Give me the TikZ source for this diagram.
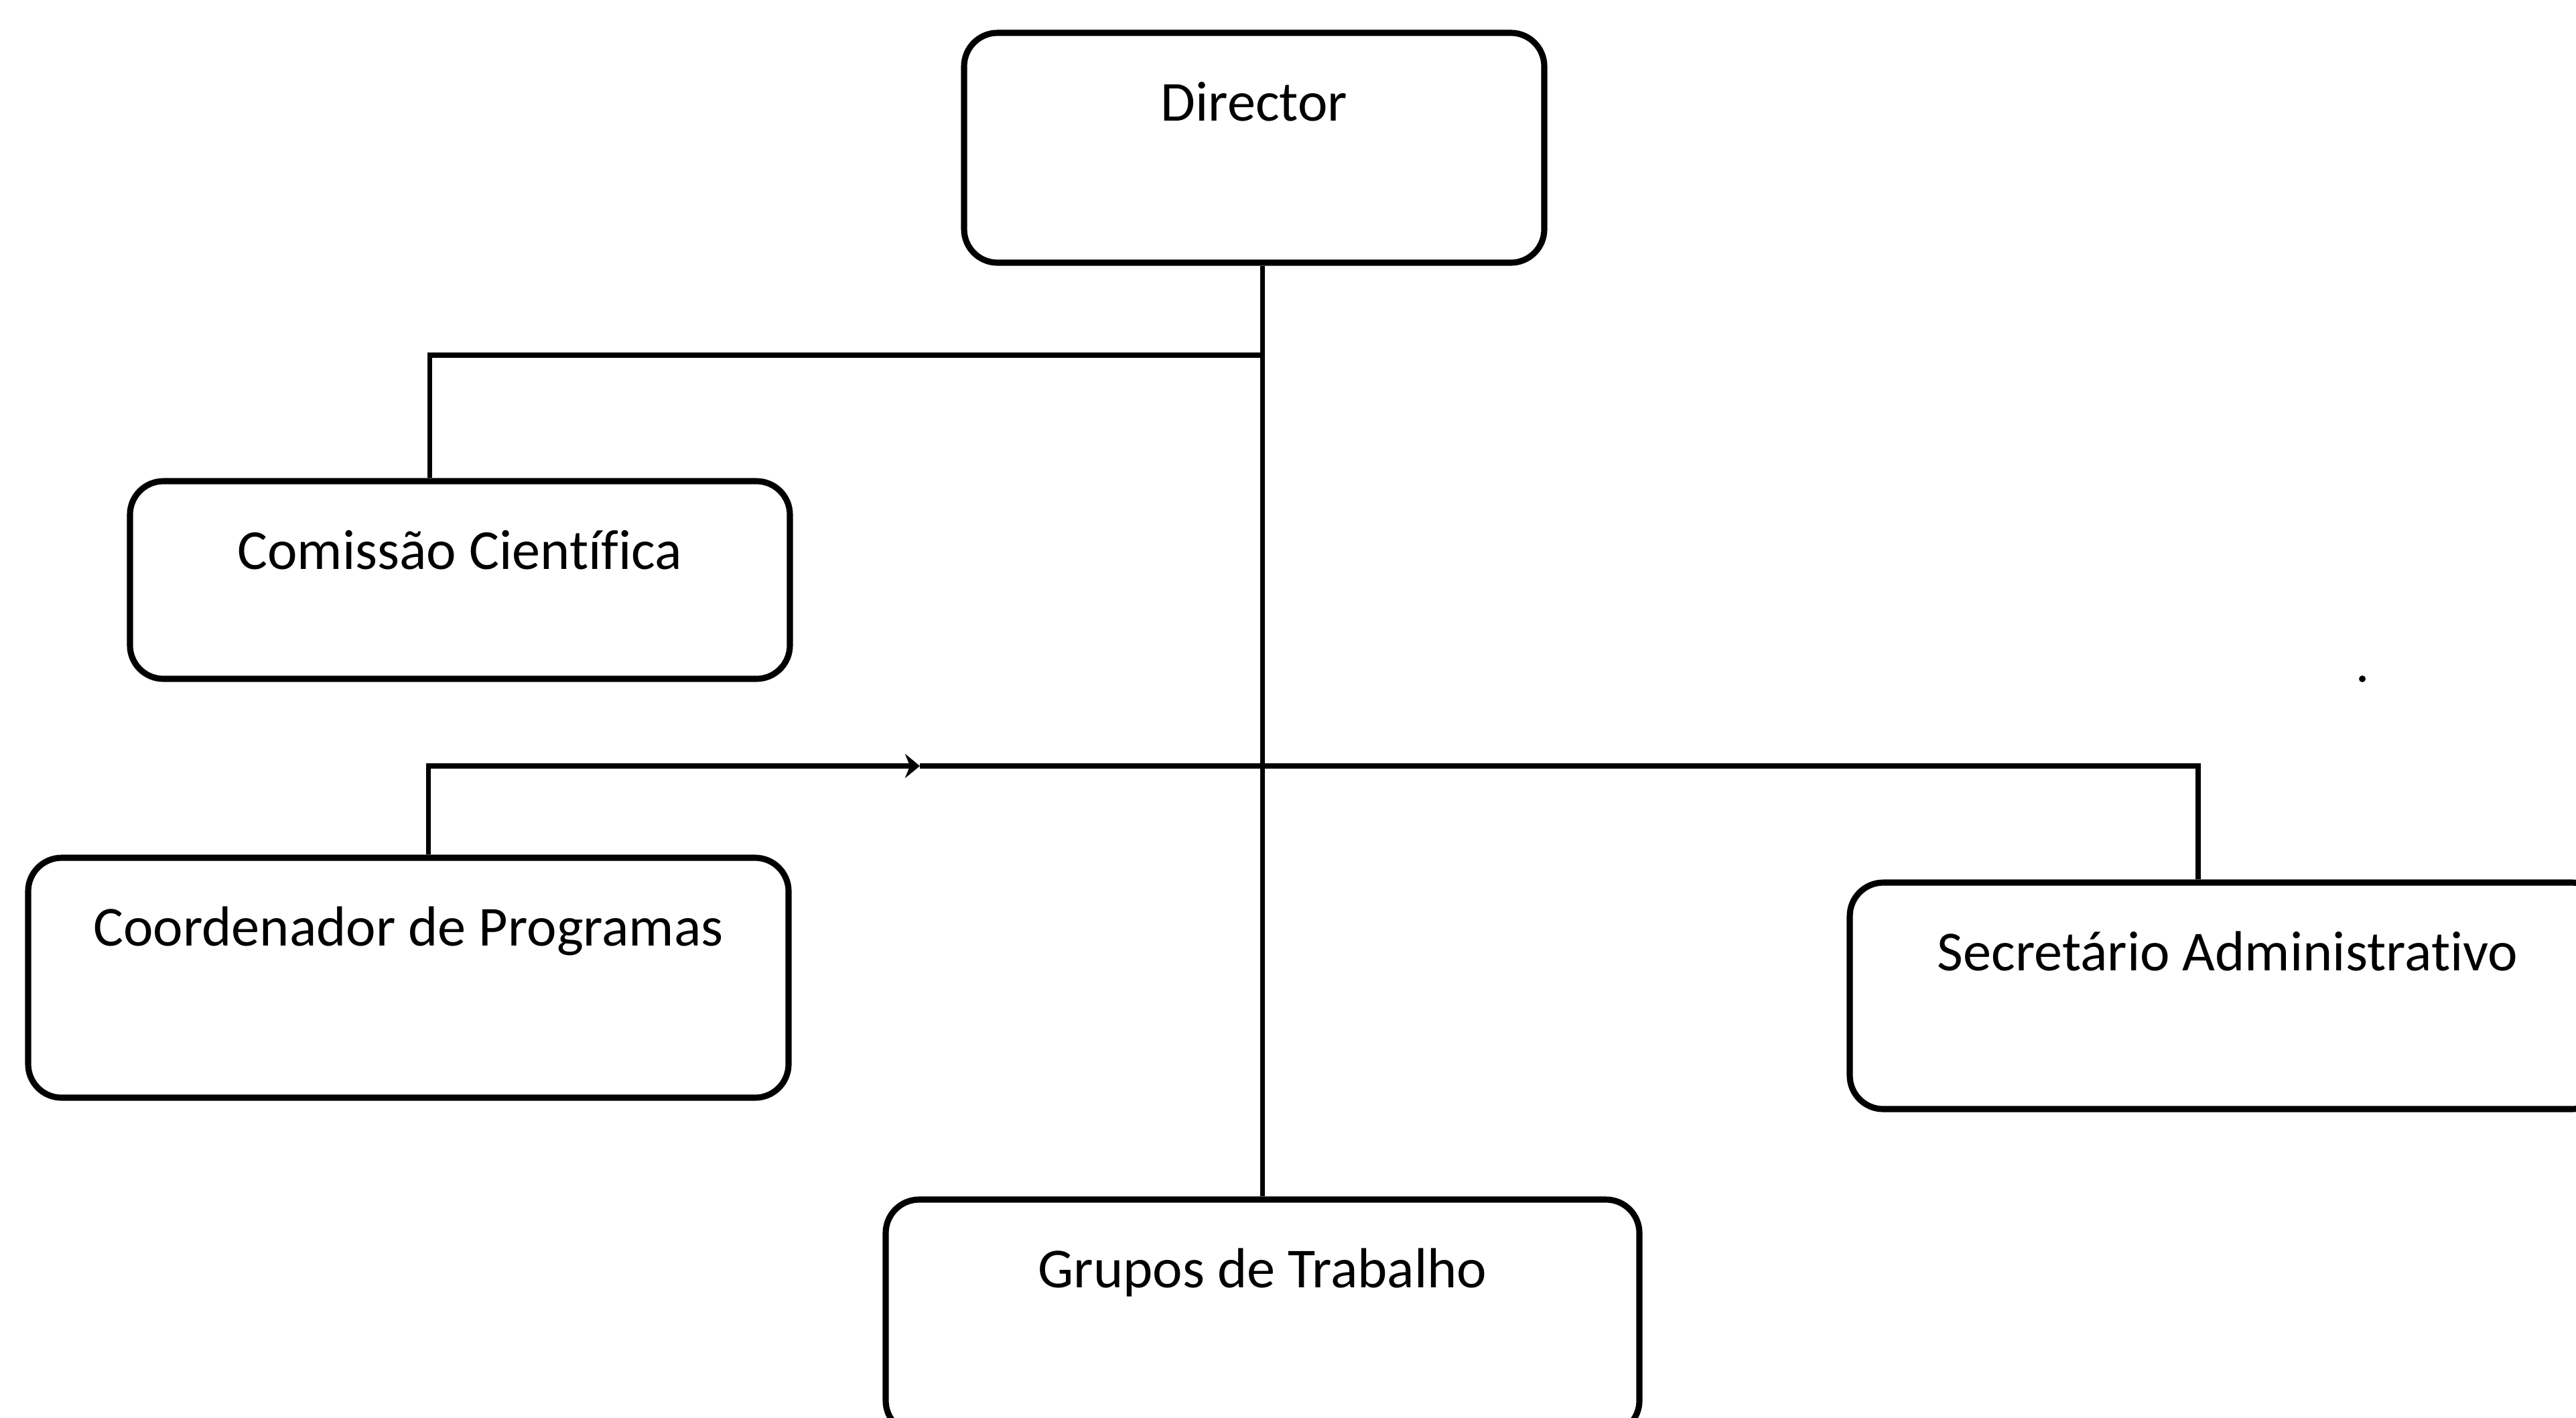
\documentclass[tikz,border=0pt]{standalone}
\usepackage{fontspec}
\setmainfont{Carlito}[Ligatures={NoCommon}]
\usetikzlibrary{arrows.meta}

\tikzset{
  unit/.style={draw, line width=2.6pt, rounded corners=0.5cm, inner sep=0pt,
    text height=1.31cm, font=\fontsize{24}{28}\selectfont},
  link/.style={line width=2.2pt}
}

\begin{document}
\begin{tikzpicture}
    \useasboundingbox (0,0) rectangle (38.45,-21.15);

    % Units
    \node[unit, minimum width=8.66cm, text depth=2.12cm] (dir) at (18.72,-2.205) {Director};
    \node[unit, minimum width=9.85cm, text depth=1.64cm] (com) at (6.865,-8.655) {Comissão Científica};
    \node[unit, minimum width=11.35cm, text depth=2.27cm] (coo) at (6.095,-14.59) {Coordenador de Programas};
    \node[unit, minimum width=11.28cm, text depth=2.07cm] (sec) at (33.25,-14.86) {Secretário Administrativo};
    \node[unit, minimum width=11.25cm, text depth=2.19cm] (grp) at (18.845,-19.65) {Grupos de Trabalho};

    % Junctions
    \coordinate (j1) at (18.85,-5.30);
    \coordinate (tip) at (13.73,-11.43);

    % Lines
    \draw[link] (grp.north |- dir.south) -- (grp.north);
    \draw[link] (j1) -| ([xshift=-0.45cm]com.north);
    \draw[link, -{Stealth[length=0.22cm, width=0.36cm]}] ([xshift=0.3cm]coo.north) |- (tip);
    \draw[link] (tip) -| ([xshift=-0.44cm]sec.north);

    % Speck
    \fill (35.26,-10.13) circle (0.05);
  \end{tikzpicture}
\end{document}
